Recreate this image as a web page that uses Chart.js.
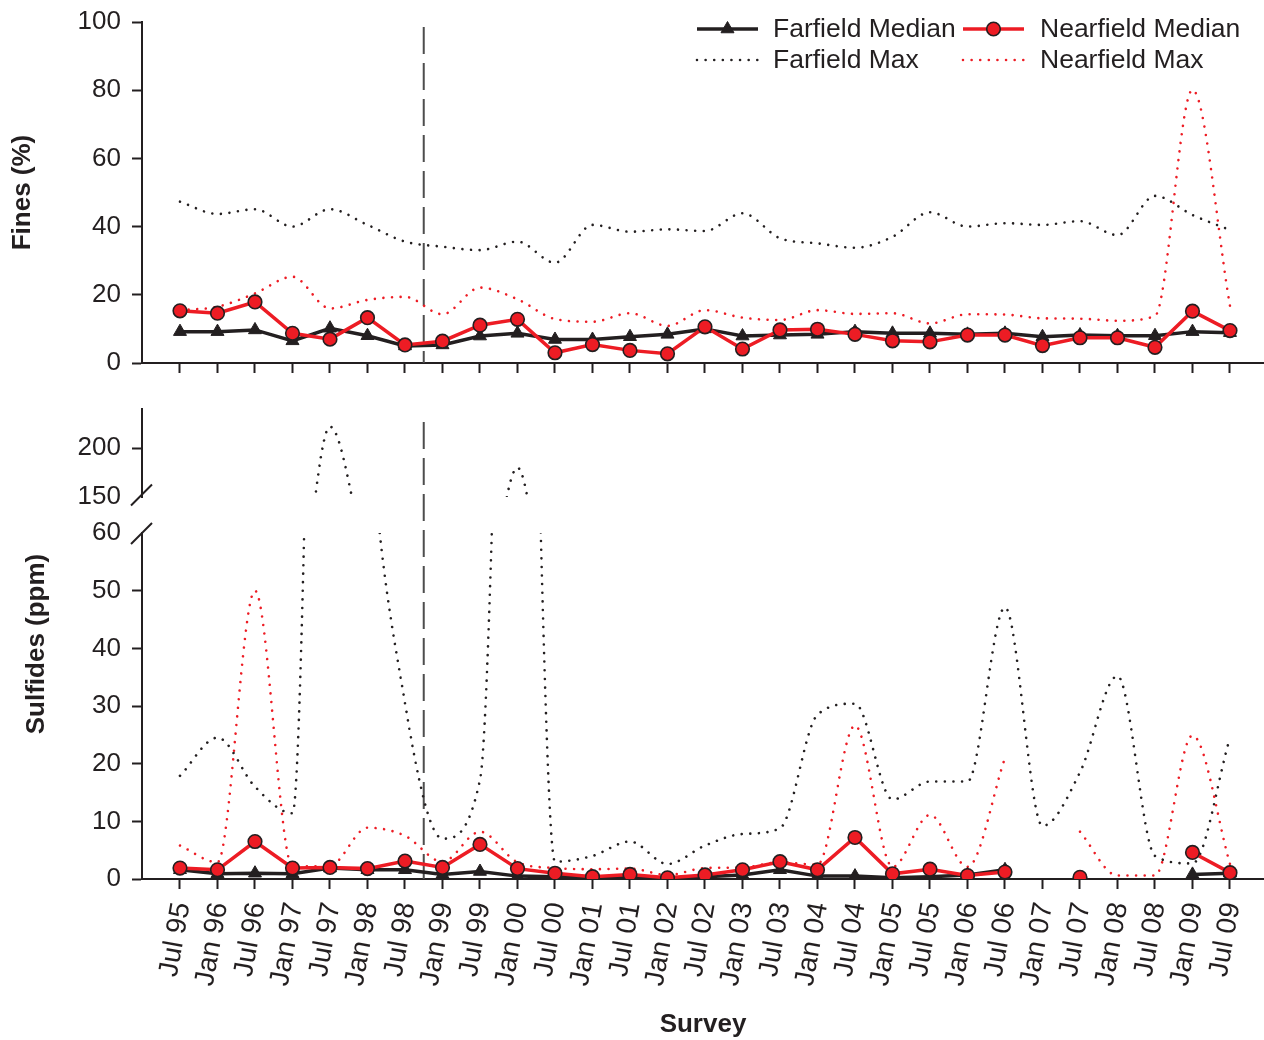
<!DOCTYPE html>
<html>
<head>
<meta charset="utf-8">
<script src="https://cdn.jsdelivr.net/npm/chart.js@4.4.1/dist/chart.umd.min.js"></script>
<style>
  html, body { margin: 0; padding: 0; background: #fff; }
  #wrap { position: relative; width: 1264px; height: 1040px; overflow: hidden; }
  #wrap canvas { position: absolute; left: 0; }
</style>
</head>
<body>
<div id="wrap">
  <canvas id="fines" width="1264" height="400" style="top:0px"></canvas>
  <canvas id="sulfLow" width="1264" height="660" style="top:380px"></canvas>
  <canvas id="sulfHigh" width="1264" height="135" style="top:388px"></canvas>
</div>
<script>
// survey dates
var surveys = ['Jul 95','Jan 96','Jul 96','Jan 97','Jul 97','Jan 98','Jul 98','Jan 99','Jul 99','Jan 00',
               'Jul 00','Jan 01','Jul 01','Jan 02','Jul 02','Jan 03','Jul 03','Jan 04','Jul 04','Jan 05',
               'Jul 05','Jan 06','Jul 06','Jan 07','Jul 07','Jan 08','Jul 08','Jan 09','Jul 09'];

// Fines (%)
var finesFarMedian  = [9.2, 9.2, 9.7, 6.5, 10.2, 8.0, 5.0, 5.3, 7.9, 8.7, 6.9, 6.9, 7.7, 8.4, 10.0,
                       7.9, 8.2, 8.4, 9.2, 8.7, 8.7, 8.4, 8.7, 7.7, 8.2, 8.0, 8.0, 9.2, 8.9];
var finesNearMedian = [15.3, 14.6, 17.9, 8.7, 7.0, 13.3, 5.3, 6.4, 11.1, 12.8, 3.0, 5.4, 3.7, 2.7, 10.6,
                       4.1, 9.7, 9.9, 8.4, 6.5, 6.2, 8.2, 8.2, 5.1, 7.4, 7.4, 4.6, 15.2, 9.5];
var finesFarMax     = [47.3, 43.7, 45.1, 40.0, 45.1, 40.5, 35.6, 34.1, 33.1, 35.6, 29.4, 40.5, 38.5, 39.2, 38.7,
                       43.9, 36.6, 35.1, 33.8, 37.0, 44.2, 40.0, 41.0, 40.5, 41.6, 37.5, 49.0, 43.4, 39.0];
var finesNearMax    = [15.5, 16.5, 20.4, 25.3, 16.0, 18.5, 19.4, 14.3, 22.1, 18.7, 12.9, 12.1, 14.6, 10.9, 15.5,
                       13.3, 12.6, 15.5, 14.4, 14.6, 11.6, 14.3, 14.2, 13.1, 13.0, 12.4, 13.8, 80.1, 16.7];

// Sulfides (ppm)
var sulfFarMedian  = [1.6, 0.9, 1.0, 0.9, 1.9, 1.6, 1.6, 0.8, 1.3, 0.5, 0.4, 0.3, 0.4, 0.1, 0.4,
                      0.7, 1.6, 0.5, 0.5, 0.2, 0.4, 0.7, 1.6, null, null, null, null, 0.8, 1.0];
var sulfNearMedian = [1.9, 1.6, 6.5, 1.9, 2.0, 1.8, 3.1, 2.0, 6.0, 1.8, 1.0, 0.4, 0.8, 0.2, 0.7,
                      1.6, 3.0, 1.6, 7.2, 0.9, 1.7, 0.6, 1.2, null, 0.3, null, null, 4.6, 1.1];
var sulfFarMax     = [17.9, 24.5, 16.0, 11.4, 222, 85, 30.5, 7.0, 17.2, 180, 3.0, 4.0, 6.5, 2.6, 5.8,
                      7.8, 8.8, 28.5, 30.4, 13.8, 16.9, 16.9, 47.1, 9.2, 18.5, 35.2, 4.0, 2.7, 24.5];
var sulfNearMax    = [5.8, 2.9, 50.0, 2.2, 2.3, 8.9, 7.5, 3.0, 8.2, 2.9, 1.9, 1.7, 1.8, 0.7, 1.9,
                      2.0, 2.9, 2.5, 26.6, 2.1, 11.1, 2.1, 21.0, null, 8.2, 0.6, 0.6, 24.9, 2.6];

var finesTicks    = [0, 20, 40, 60, 80, 100];
var sulfLowTicks  = [0, 10, 20, 30, 40, 50, 60];
var sulfHighTicks = [150, 200];

var ink = '#231f20';
var red = '#ed1c24';
var dividerAt = 6.5;   // between Jul 98 and Jan 99

Chart.defaults.font.family = "'Liberation Sans', Arial, Helvetica, sans-serif";
Chart.defaults.font.size = 26;
Chart.defaults.color = ink;

function points(values) {
    return values.map(function (v, i) { return { x: i, y: v }; });
}

function makeDatasets(farMed, nearMed, farMax, nearMax) {
    return [
        {
            label: 'Nearfield Median', data: points(nearMed),
            borderColor: red, backgroundColor: red, borderWidth: 3.5,
            pointStyle: 'circle', pointRadius: 6.8, pointBackgroundColor: red,
            pointBorderColor: ink, pointBorderWidth: 1.6
        },
        {
            label: 'Farfield Median', data: points(farMed),
            borderColor: ink, backgroundColor: ink, borderWidth: 3.5,
            pointStyle: 'triangle', pointRadius: 7.5, pointBackgroundColor: ink,
            pointBorderColor: ink, pointBorderWidth: 1
        },
        {
            label: 'Nearfield Max', data: points(nearMax),
            borderColor: red, borderWidth: 2.6, borderDash: [0.01, 8.6], borderCapStyle: 'round',
            pointRadius: 0, cubicInterpolationMode: 'monotone'
        },
        {
            label: 'Farfield Max', data: points(farMax),
            borderColor: ink, borderWidth: 2.6, borderDash: [0.01, 8.6], borderCapStyle: 'round',
            pointRadius: 0, cubicInterpolationMode: 'monotone'
        }
    ];
}

function xScale(showLabels, height) {
    return {
        type: 'linear',
        display: height > 0,
        min: -1.013,
        max: surveys.length - 1 + 0.907,
        afterBuildTicks: function (s) { s.ticks = surveys.map(function (_, i) { return { value: i }; }); },
        afterFit: function (s) { s.height = height; s.paddingLeft = 0; s.paddingRight = 0; },
        border: { display: true, color: ink, width: 2 },
        grid: { drawOnChartArea: false, drawTicks: true, tickLength: 10, tickWidth: 2, tickColor: ink },
        ticks: {
            display: showLabels, autoSkip: false, minRotation: 80, maxRotation: 80,
            padding: 11, labelOffset: 2, font: { size: 28 },
            callback: function (v) { return surveys[v]; }
        },
        title: {
            display: showLabels, text: 'Survey',
            font: { weight: 'bold', size: 26 }, padding: { top: 0, bottom: 0 }
        }
    };
}

function yScale(min, max, tickValues, hiddenTick, title) {
    return {
        min: min, max: max,
        afterBuildTicks: function (s) { s.ticks = tickValues.map(function (v) { return { value: v }; }); },
        afterFit: function (s) { s.width = 142; s.paddingTop = 0; s.paddingBottom = 0; },
        border: { display: true, color: ink, width: 2 },
        grid: {
            drawOnChartArea: false, tickLength: 10, tickWidth: 2,
            tickColor: function (c) { return c.tick && c.tick.value === hiddenTick ? 'rgba(0,0,0,0)' : ink; }
        },
        ticks: { padding: 11 },
        title: {
            display: !!title, text: title || '',
            font: { weight: 'bold', size: 26 }, padding: { top: 7, bottom: 0 }
        }
    };
}

// dashed vertical divider
var dividerPlugin = {
    id: 'divider',
    beforeDatasetsDraw: function (chart, args, opts) {
        if (!opts.show) return;
        var ctx = chart.ctx;
        var x = chart.scales.x.getPixelForValue(dividerAt);
        ctx.save();
        ctx.setLineDash([27, 9]);
        ctx.lineWidth = 2;
        ctx.strokeStyle = '#4d4d4d';
        ctx.beginPath();
        ctx.moveTo(x, chart.chartArea.top + opts.start);
        ctx.lineTo(x, chart.chartArea.bottom);
        ctx.stroke();
        ctx.restore();
    }
};

// slash marks on the broken axis
var breakPlugin = {
    id: 'axisBreak',
    afterDraw: function (chart, args, opts) {
        if (!opts.edge) return;
        var ctx = chart.ctx;
        var a = chart.chartArea;
        var y = (opts.edge === 'top' ? a.top : a.bottom) + opts.shift;
        ctx.save();
        ctx.lineWidth = 2;
        ctx.strokeStyle = ink;
        ctx.beginPath();
        ctx.moveTo(a.left - 11, y + 10.5);
        ctx.lineTo(a.left + 10, y - 10.5);
        ctx.stroke();
        ctx.restore();
    }
};

// y title spanning both parts of the sulfides panel
var sideTitlePlugin = {
    id: 'sideTitle',
    afterDraw: function (chart, args, opts) {
        if (!opts.text) return;
        var ctx = chart.ctx;
        var y = (opts.top + chart.chartArea.bottom) / 2;
        ctx.save();
        ctx.translate(opts.x, y);
        ctx.rotate(-Math.PI / 2);
        ctx.font = 'bold 26px ' + Chart.defaults.font.family;
        ctx.fillStyle = ink;
        ctx.textAlign = 'center';
        ctx.textBaseline = 'middle';
        ctx.fillText(opts.text, 0, 0);
        ctx.restore();
    }
};

// two-column legend in the top right corner
var legendPlugin = {
    id: 'cornerLegend',
    afterDraw: function (chart, args, opts) {
        if (!opts.rows) return;
        var ctx = chart.ctx;
        var sets = chart.data.datasets;
        opts.rows.forEach(function (row, r) {
            row.forEach(function (label, c) {
                var ds = sets.find(function (d) { return d.label === label; });
                var y = opts.rowY[r];
                var x0 = opts.sampleX[c];
                var x1 = x0 + opts.sampleLen;
                ctx.save();
                ctx.strokeStyle = ds.borderColor;
                ctx.lineWidth = ds.borderWidth;
                ctx.lineCap = ds.borderCapStyle || 'butt';
                ctx.setLineDash(ds.borderDash || []);
                ctx.beginPath();
                ctx.moveTo(x0, y);
                ctx.lineTo(x1, y);
                ctx.stroke();
                ctx.setLineDash([]);
                if (ds.pointRadius > 0) {
                    var cx = (x0 + x1) / 2;
                    var rad = ds.pointRadius;
                    ctx.fillStyle = ds.pointBackgroundColor;
                    ctx.strokeStyle = ds.pointBorderColor;
                    ctx.lineWidth = ds.pointBorderWidth;
                    ctx.beginPath();
                    if (ds.pointStyle === 'triangle') {
                        for (var k = 0; k < 3; k++) {
                            var ang = k * 2 * Math.PI / 3;
                            var px = cx + Math.sin(ang) * rad, py = y - Math.cos(ang) * rad;
                            if (k === 0) ctx.moveTo(px, py); else ctx.lineTo(px, py);
                        }
                        ctx.closePath();
                    } else {
                        ctx.arc(cx, y, rad, 0, Math.PI * 2);
                    }
                    ctx.fill();
                    ctx.stroke();
                }
                ctx.fillStyle = ink;
                ctx.font = '26.5px ' + Chart.defaults.font.family;
                ctx.textAlign = 'left';
                ctx.textBaseline = 'middle';
                ctx.fillText(label, opts.textX[c], y + 1);
                ctx.restore();
            });
        });
    }
};

function baseOptions(padding, plugins) {
    var p = {
        legend: { display: false },
        tooltip: { enabled: false },
        divider: { show: false },
        axisBreak: {},
        sideTitle: {},
        cornerLegend: {}
    };
    Object.keys(plugins).forEach(function (k) { p[k] = plugins[k]; });
    return {
        responsive: false,
        animation: false,
        events: [],
        layout: { padding: padding, autoPadding: false },
        plugins: p
    };
}

var allPlugins = [dividerPlugin, breakPlugin, sideTitlePlugin, legendPlugin];

// top panel: fines
var finesOpts = baseOptions({ top: 22, right: 0, bottom: 0, left: 0 }, {
    divider: { show: true, start: 5 },
    cornerLegend: {
        rows: [['Farfield Median', 'Nearfield Median'], ['Farfield Max', 'Nearfield Max']],
        rowY: [29, 60], sampleX: [697, 963], sampleLen: 61, textX: [773, 1040]
    }
});
finesOpts.scales = { x: xScale(false, 37), y: yScale(0, 100, finesTicks, null, 'Fines (%)') };
new Chart(document.getElementById('fines'), {
    type: 'line',
    data: { datasets: makeDatasets(finesFarMedian, finesNearMedian, finesFarMax, finesNearMax) },
    options: finesOpts,
    plugins: allPlugins
});

// bottom panel, lower part 0-60
var lowOpts = baseOptions({ top: 153, right: 0, bottom: 0, left: 0 }, {
    divider: { show: true, start: -111 },
    axisBreak: { edge: 'top', shift: 0.5 },
    sideTitle: { text: 'Sulfides (ppm)', x: 37, top: 29 }
});
lowOpts.scales = { x: xScale(true, 161), y: yScale(0, 60, sulfLowTicks, 60, '') };
new Chart(document.getElementById('sulfLow'), {
    type: 'line',
    data: { datasets: makeDatasets(sulfFarMedian, sulfNearMedian, sulfFarMax, sulfNearMax) },
    options: lowOpts,
    plugins: allPlugins
});

// bottom panel, upper part 150-240
var highOpts = baseOptions({ top: 21, right: 0, bottom: 26, left: 0 }, {
    axisBreak: { edge: 'bottom', shift: -2 }
});
highOpts.scales = { x: xScale(false, 0), y: yScale(150, 240, sulfHighTicks, 150, '') };
new Chart(document.getElementById('sulfHigh'), {
    type: 'line',
    data: { datasets: makeDatasets(sulfFarMedian, sulfNearMedian, sulfFarMax, sulfNearMax) },
    options: highOpts,
    plugins: allPlugins
});
</script>
</body>
</html>
